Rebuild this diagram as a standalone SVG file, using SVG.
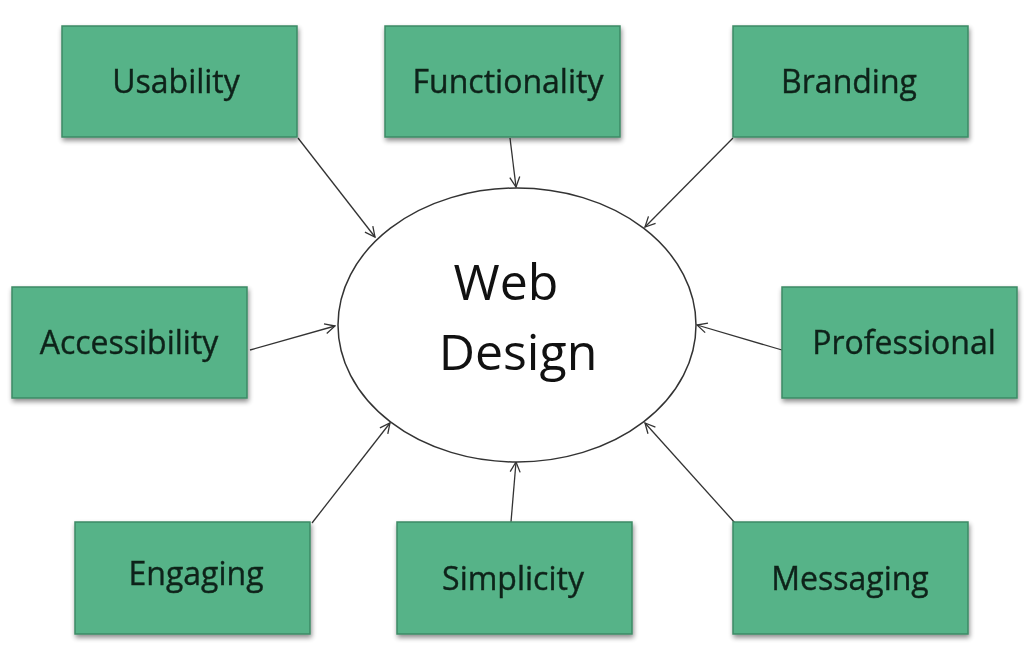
<svg xmlns="http://www.w3.org/2000/svg" width="1024" height="653" viewBox="0 0 1024 653">
<defs>
<style>
.box{fill:#56b388;stroke:#3e8a66;stroke-width:1.5}
.lbl{font-family:"Open Sans","Liberation Sans",sans-serif;font-size:32px;fill:#10241a;text-anchor:middle;stroke:#10241a;stroke-width:0.4}
.conn line{stroke:#333;stroke-width:1.3;marker-end:url(#ah)}
.big{font-family:"Open Sans","Liberation Sans",sans-serif;font-size:50px;fill:#111;text-anchor:middle}
</style>
<filter id="sh" x="-10%" y="-10%" width="125%" height="130%">
<feGaussianBlur in="SourceAlpha" stdDeviation="2.5"/>
<feOffset dx="1" dy="3" result="b"/>
<feComponentTransfer><feFuncA type="linear" slope="0.45"/></feComponentTransfer>
<feMerge><feMergeNode/><feMergeNode in="SourceGraphic"/></feMerge>
</filter>
<marker id="ah" viewBox="0 0 12 12" refX="11" refY="6" markerWidth="12" markerHeight="12" markerUnits="userSpaceOnUse" orient="auto">
<path d="M1,1 L11,6 L1,11" fill="none" stroke="#333" stroke-width="1.3"/>
</marker>
</defs>
<rect width="1024" height="653" fill="#fff"/>
<g id="connectors" class="conn">
<line x1="298" y1="138" x2="375" y2="237"/>
<line x1="510" y1="138" x2="516" y2="187"/>
<line x1="733" y1="138" x2="645" y2="227"/>
<line x1="250" y1="350" x2="335" y2="326"/>
<line x1="782" y1="350" x2="697" y2="325"/>
<line x1="312" y1="523" x2="390" y2="423"/>
<line x1="511" y1="522" x2="516" y2="462"/>
<line x1="735" y1="523" x2="645" y2="423"/>
</g>
<g id="center">
<ellipse cx="517" cy="325" rx="179" ry="137" fill="#fff" stroke="#333" stroke-width="1.5"/>
<text class="big" x="506" y="300">Web</text>
<text class="big" x="518" y="370">Design</text>
</g>
<g id="usability" filter="url(#sh)"><rect class="box" x="62" y="26" width="235" height="111"/><text class="lbl" x="176" y="93">Usability</text></g>
<g id="functionality" filter="url(#sh)"><rect class="box" x="385" y="26" width="235" height="111"/><text class="lbl" x="508" y="93">Functionality</text></g>
<g id="branding" filter="url(#sh)"><rect class="box" x="733" y="26" width="235" height="111"/><text class="lbl" x="849" y="93">Branding</text></g>
<g id="accessibility" filter="url(#sh)"><rect class="box" x="12" y="287" width="235" height="111"/><text class="lbl" x="129" y="354">Accessibility</text></g>
<g id="professional" filter="url(#sh)"><rect class="box" x="782" y="287" width="235" height="111"/><text class="lbl" x="904" y="354">Professional</text></g>
<g id="engaging" filter="url(#sh)"><rect class="box" x="75" y="522" width="235" height="112"/><text class="lbl" x="196" y="585">Engaging</text></g>
<g id="simplicity" filter="url(#sh)"><rect class="box" x="397" y="522" width="235" height="112"/><text class="lbl" x="513" y="590">Simplicity</text></g>
<g id="messaging" filter="url(#sh)"><rect class="box" x="733" y="522" width="235" height="112"/><text class="lbl" x="850" y="590">Messaging</text></g>
</svg>
